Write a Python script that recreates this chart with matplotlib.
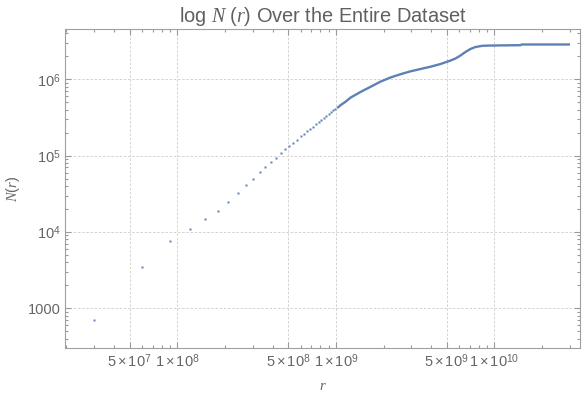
import numpy as np
import matplotlib.pyplot as plt
from matplotlib.ticker import FixedLocator, FixedFormatter, LogLocator, NullFormatter

plt.rcParams['font.family'] = 'Liberation Sans'
plt.rcParams['mathtext.fontset'] = 'custom'
plt.rcParams['mathtext.rm'] = 'Liberation Sans'
plt.rcParams['mathtext.it'] = 'Liberation Serif:italic'

# separate points (low r)
r_sparse = [3e7, 6e7, 9e7, 1.2e8, 1.5e8, 1.8e8, 2.1e8, 2.4e8, 2.7e8, 3.0e8,
            3.3e8, 3.6e8, 3.9e8, 4.2e8, 4.5e8, 4.8e8, 5.1e8, 5.4e8, 5.7e8, 6.0e8,
            6.3e8, 6.6e8, 6.9e8, 7.2e8, 7.5e8, 7.8e8, 8.1e8, 8.4e8, 8.7e8, 9.0e8,
            9.3e8, 9.6e8, 9.9e8]
n_sparse = [700, 3480, 7600, 11000, 14900, 19000, 25000, 32700, 41700, 50000,
            61700, 71800, 83400, 94200, 109500, 123600, 135300, 148000, 162000, 180700,
            193700, 210000, 225000, 239000, 262000, 278000, 293000, 314000, 334000, 354000,
            376000, 392000, 412000]

# dense part (points merge into a line)
r_dense = [1.02e9, 1.07e9, 1.15e9, 1.24e9, 1.43e9, 1.66e9, 1.91e9, 2.21e9, 2.56e9,
           2.96e9, 3.42e9, 3.95e9, 4.57e9, 5.29e9, 5.69e9, 6.11e9, 6.57e9, 7.07e9,
           7.60e9, 8.41e9, 9.46e9, 1.46e10, 1.49e10, 3.0e10]
n_dense = [4.2e5, 4.58e5, 5.08e5, 5.77e5, 6.82e5, 8.0e5, 9.31e5, 1.056e6, 1.167e6,
           1.273e6, 1.365e6, 1.462e6, 1.586e6, 1.762e6, 1.874e6, 2.05e6, 2.28e6, 2.50e6,
           2.65e6, 2.75e6, 2.77e6, 2.80e6, 2.86e6, 2.86e6]

xticks = [5e7, 1e8, 5e8, 1e9, 5e9, 1e10]
xlabels = ['$5\\times10^{7}$', '$1\\times10^{8}$', '$5\\times10^{8}$',
           '$1\\times10^{9}$', '$5\\times10^{9}$', '$1\\times10^{10}$']
yticks = [1e3, 1e4, 1e5, 1e6]
ylabels = ['1000', '$10^{4}$', '$10^{5}$', '$10^{6}$']

blue = '#5e81b5'
gray_txt = '#666666'

fig = plt.figure(figsize=(5.84, 3.98), dpi=100)
ax = fig.add_axes([0.1113, 0.1264, 0.8819, 0.8007])

ax.plot(r_sparse, n_sparse, 's', ms=1.8, color=blue, mec='none')
ax.plot(r_dense, n_dense, '-', lw=1.7, color=blue, solid_capstyle='butt')

ax.set_xscale('log')
ax.set_yscale('log')
ax.set_xlim(1.957e7, 3.47e10)
ax.set_ylim(305, 4.56e6)

ax.xaxis.set_major_locator(FixedLocator(xticks))
ax.xaxis.set_major_formatter(FixedFormatter(xlabels))
ax.xaxis.set_minor_locator(LogLocator(base=10, subs=(2, 3, 4, 6, 7, 8, 9), numticks=100))
ax.xaxis.set_minor_formatter(NullFormatter())
ax.yaxis.set_major_locator(FixedLocator(yticks))
ax.yaxis.set_major_formatter(FixedFormatter(ylabels))
ax.yaxis.set_minor_locator(LogLocator(base=10, subs=(2, 3, 4, 5, 6, 7, 8, 9), numticks=100))
ax.yaxis.set_minor_formatter(NullFormatter())

ax.tick_params(which='both', direction='in', top=True, right=True,
               colors='#999999', labelcolor=gray_txt, labelsize=10.5, width=0.8)
ax.tick_params(which='major', length=4, pad=3)
ax.tick_params(which='minor', length=2.2)

ax.grid(which='major', ls=(0, (3, 2)), color='#cccccc', lw=0.6)
for s in ax.spines.values():
    s.set_color('#a0a0a0')
    s.set_linewidth(0.8)

ax.set_title('log $N\\ (r)$ Over the Entire Dataset', fontsize=14.4, color='#606060', pad=5)
ax.set_xlabel('$r$', fontsize=10.5, color=gray_txt, labelpad=7)
ax.set_ylabel('$N(r)$', fontsize=10.5, color=gray_txt, labelpad=4)

fig.savefig('out.png', dpi=100)
